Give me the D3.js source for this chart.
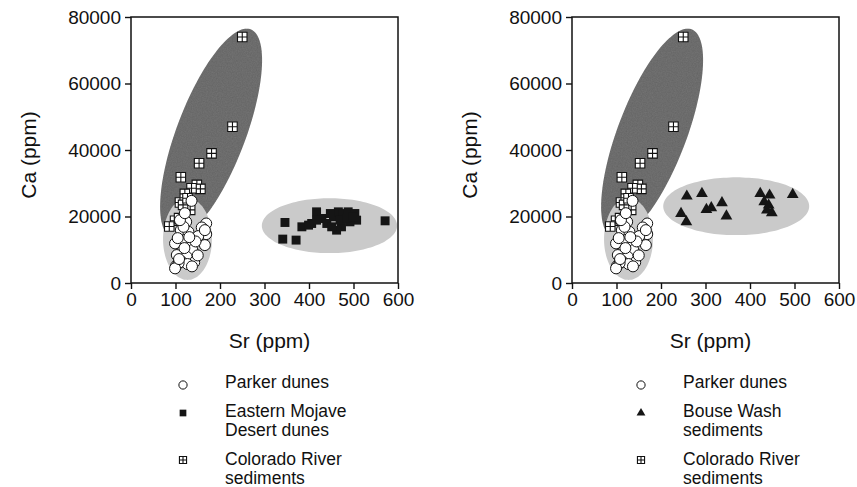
<!DOCTYPE html>
<html>
<head>
<meta charset="utf-8">
<script src="https://cdn.jsdelivr.net/npm/d3@7"></script>
<style>
  body { margin: 0; background: #fff; }
  svg { display: block; }
  text { font-family: "Liberation Sans", Arial, sans-serif; fill: #111; }
</style>
</head>
<body>
<svg id="chart" width="857" height="487"></svg>
<script>
// Sr vs Ca (ppm), two panels

var xTicks = [0, 100, 200, 300, 400, 500, 600]
var yTicks = [0, 20000, 40000, 60000, 80000]

// [Sr, Ca]
var parkerDunes = [
    [136, 24700], [124, 18400], [169, 17900], [112, 15900], [129, 15400],
    [159, 16700], [169, 14700], [151, 14100], [118, 12900], [99, 11900],
    [166, 11400], [133, 10900], [138, 9900], [114, 9400], [103, 8400],
    [125, 7900], [114, 6400], [142, 6200], [101, 5100], [127, 5700],
    [107, 6000], [99, 4400], [166, 15900], [118, 16900], [110, 18900],
    [121, 21000], [105, 13500], [145, 12500], [131, 13800], [120, 10500],
    [150, 8300], [108, 7200], [137, 5000]
]

var coloradoRiver = [
    [250, 74000], [228, 47000], [181, 39000], [153, 36000], [112, 31800],
    [148, 29500], [156, 28300], [136, 28500], [121, 26800], [110, 24200],
    [133, 22000], [117, 23500], [127, 25500], [99, 18700], [86, 17000],
    [108, 19500]
]

var mojaveDunes = [
    [346, 18200], [341, 13200], [371, 12900], [384, 16900], [417, 21400],
    [406, 17900], [429, 19400], [440, 17900], [455, 19900], [466, 21400],
    [477, 20900], [488, 21400], [503, 20900], [507, 18900], [492, 18400],
    [473, 16900], [462, 15900], [451, 16900], [470, 18900], [485, 19400],
    [417, 18900], [399, 17400], [499, 19900], [448, 20900], [571, 18700]
]

var bouseWash = [
    [258, 26100], [292, 26900], [245, 20900], [257, 18400], [302, 22100],
    [313, 22600], [337, 24100], [347, 20100], [423, 26900], [444, 26400],
    [432, 24400], [442, 23400], [438, 21900], [449, 21100], [496, 26600]
]

// ellipses: centre and two conjugate semi-axis vectors, in data units
var riverEllipse = { c: [180, 45000], a: [80, 31500], b: [82, 0] }
var parkerEllipse = { c: [127, 13200], a: [55, 0], b: [0, 12300] }
var mojaveEllipse = { c: [446, 17250], a: [152, 0], b: [0, 8250] }
var bouseEllipse = { c: [369, 23100], a: [164, 0], b: [0, 8700] }

var svg = d3.select("#chart")

// grain for the dark ellipse
var defs = svg.append("defs")
var grain = defs.append("filter").attr("id", "grain")
grain.append("feTurbulence")
    .attr("type", "fractalNoise").attr("baseFrequency", 0.8)
    .attr("numOctaves", 2).attr("seed", 3).attr("result", "noise")
grain.append("feColorMatrix").attr("in", "noise").attr("type", "matrix")
    .attr("values", "0 0 0 0 0  0 0 0 0 0  0 0 0 0 0  0 0 0 0.3 -0.05")
    .attr("result", "dots")
grain.append("feComposite").attr("in", "dots").attr("in2", "SourceGraphic")
    .attr("operator", "in").attr("result", "dotsIn")
var merge = grain.append("feMerge")
merge.append("feMergeNode").attr("in", "SourceGraphic")
merge.append("feMergeNode").attr("in", "dotsIn")

function ellipsePath(e, x, y) {
    var pts = d3.range(0, 72).map(function(i) {
        var t = i / 72 * 2 * Math.PI
        return [e.c[0] + Math.cos(t) * e.a[0] + Math.sin(t) * e.b[0],
                e.c[1] + Math.cos(t) * e.a[1] + Math.sin(t) * e.b[1]]
    })
    var line = d3.line()
        .curve(d3.curveCardinalClosed)
        .x(function(d) { return x(d[0]) })
        .y(function(d) { return y(d[1]) })
    return line(pts)
}

function crossSquare(s) {
    var h = s / 2
    return "M" + (-h) + "," + (-h) + "h" + s + "v" + s + "h" + (-s) + "Z" +
           "M0," + (-h) + "V" + h + "M" + (-h) + ",0H" + h
}

function drawMarks(g, kind, data, x, y) {
    var sel = g.append("g").selectAll("path").data(data).join("path")
        .attr("transform", function(d) { return "translate(" + x(d[0]) + "," + y(d[1]) + ")" })
    styleMark(sel, kind, 1)
}

function styleMark(sel, kind, scale) {
    if (kind == "circle") {
        sel.attr("d", d3.symbol(d3.symbolCircle, 95 * scale * scale)())
            .attr("fill", "#fff").attr("stroke", "#111").attr("stroke-width", 1)
    } else if (kind == "cross") {
        sel.attr("d", crossSquare(9.5 * scale))
            .attr("fill", "#fff").attr("stroke", "#111").attr("stroke-width", 1.1)
    } else if (kind == "square") {
        sel.attr("d", d3.symbol(d3.symbolSquare, 80 * scale * scale)())
            .attr("fill", "#151515")
    } else if (kind == "triangle") {
        sel.attr("d", d3.symbol(d3.symbolTriangle, 60 * scale * scale)())
            .attr("fill", "#151515")
    }
}

function drawPanel(x0, other, otherEllipse, legendNames, legendX) {
    var x = d3.scaleLinear().domain([0, 600]).range([x0, x0 + 267])
    var y = d3.scaleLinear().domain([0, 80000]).range([283, 17])
    var g = svg.append("g")

    // ellipses
    g.append("path").attr("d", ellipsePath(riverEllipse, x, y))
        .attr("fill", "#727272").attr("filter", "url(#grain)")
    g.append("path").attr("d", ellipsePath(parkerEllipse, x, y))
        .attr("fill", "#cacaca")
    g.append("path").attr("d", ellipsePath(otherEllipse, x, y))
        .attr("fill", "#cacaca")

    // frame
    g.append("rect")
        .attr("x", x(0)).attr("y", y(80000))
        .attr("width", x(600) - x(0)).attr("height", y(0) - y(80000))
        .attr("fill", "none").attr("stroke", "#111").attr("stroke-width", 1.5)

    var ax = g.append("g").attr("transform", "translate(0," + y(0) + ")")
        .call(d3.axisBottom(x).tickValues(xTicks).tickSize(6).tickPadding(4).tickSizeOuter(0))
    var ay = g.append("g").attr("transform", "translate(" + x(0) + ",0)")
        .call(d3.axisLeft(y).tickValues(yTicks).tickFormat(d3.format("d")).tickSize(6).tickPadding(4).tickSizeOuter(0))
    ;[ax, ay].forEach(function(a) {
        a.select(".domain").remove()
        a.selectAll("line").attr("stroke", "#111").attr("stroke-width", 1.4)
        a.selectAll("text").attr("font-size", 19).attr("fill", "#111")
            .attr("font-family", "Liberation Sans, Arial, sans-serif")
    })

    // points
    drawMarks(g, "cross", coloradoRiver, x, y)
    drawMarks(g, "circle", parkerDunes, x, y)
    drawMarks(g, other.kind, other.data, x, y)

    // titles
    g.append("text")
        .attr("x", (x(0) + x(600)) / 2 + 5).attr("y", 348)
        .attr("text-anchor", "middle").attr("font-size", 21)
        .text("Sr (ppm)")
    g.append("text")
        .attr("transform", "translate(" + (x0 - 95) + ",155) rotate(-90)")
        .attr("text-anchor", "middle").attr("font-size", 21)
        .text("Ca (ppm)")

    // legend
    var items = [
        { kind: "circle", lines: ["Parker dunes"], sy: 385, ty: 388 },
        { kind: other.kind, lines: legendNames, sy: 413, ty: 417 },
        { kind: "cross", lines: ["Colorado River", "sediments"], sy: 460, ty: 465 }
    ]
    var lg = g.append("g")
    items.forEach(function(it) {
        var m = lg.append("path").attr("transform", "translate(" + legendX + "," + it.sy + ")")
        styleMark(m, it.kind, 0.75)
        var t = lg.append("text").attr("x", legendX + 42).attr("y", it.ty)
            .attr("font-size", 17.5)
        it.lines.forEach(function(s, i) {
            t.append("tspan").attr("x", legendX + 42).attr("dy", i ? 18.5 : 0).text(s)
        })
    })
}

drawPanel(131, { kind: "square", data: mojaveDunes }, mojaveEllipse,
          ["Eastern Mojave", "Desert dunes"], 183)
drawPanel(572, { kind: "triangle", data: bouseWash }, bouseEllipse,
          ["Bouse Wash", "sediments"], 641)
</script>
</body>
</html>
